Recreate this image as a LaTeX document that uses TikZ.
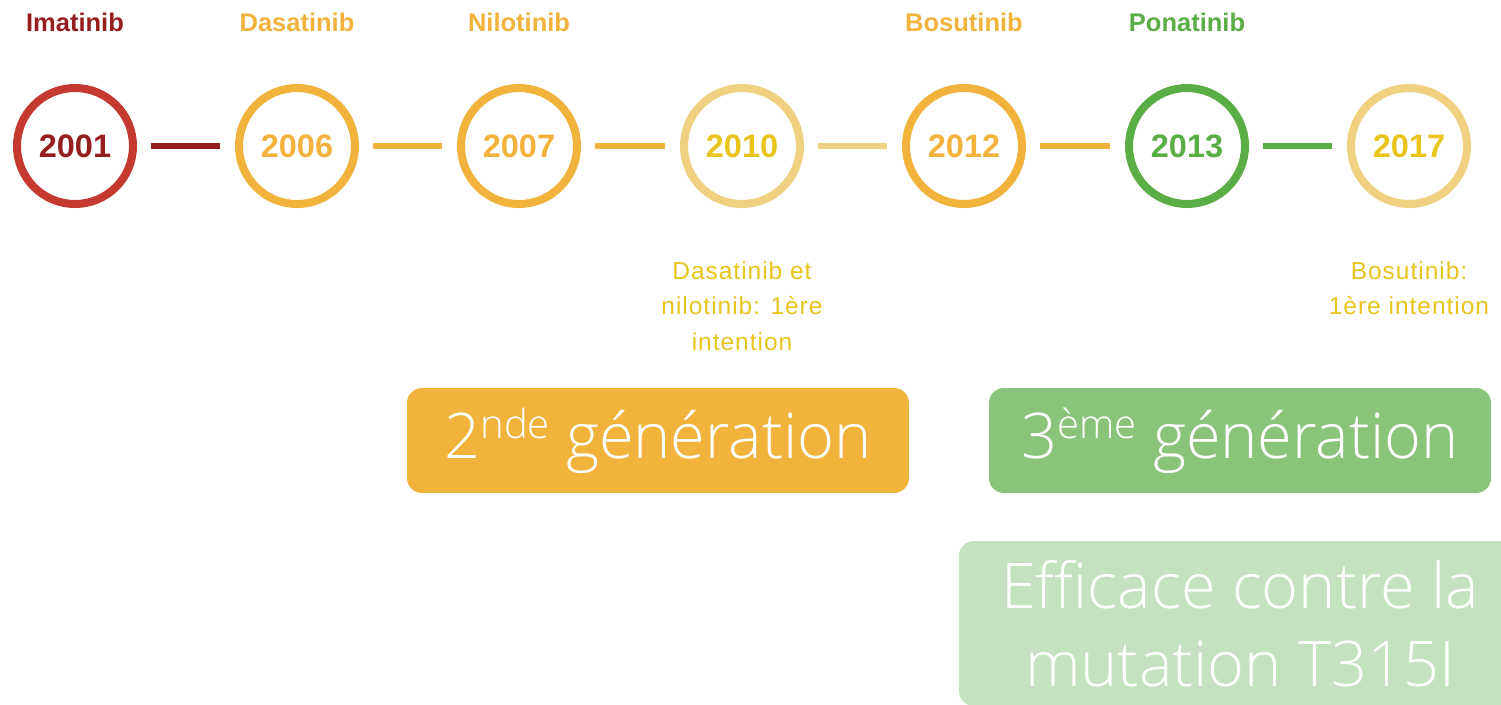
\documentclass[tikz,border=0pt]{standalone}
\usepackage{fontspec}
\setmainfont{Liberation Sans}
\newfontfamily\boxfont{Open Sans}[UprightFont={* Light}]
\definecolor{cRed}{HTML}{C53A30}
\definecolor{cDarkRed}{HTML}{961E1E}
\definecolor{cOrange}{HTML}{F2B33D}
\definecolor{cPale}{HTML}{F0D182}
\definecolor{cYellow}{HTML}{E8C41C}
\definecolor{cGreen}{HTML}{5BAD46}
\definecolor{cBoxGreen}{HTML}{8AC47A}
\definecolor{cBoxPale}{HTML}{C5E2C0}
\tikzset{
  yearring/.style={circle, draw=#1, line width=8pt, minimum size=116pt, inner sep=0pt,
    font=\fontsize{32.5}{36}\selectfont\bfseries},
  drug/.style={font=\fontsize{25.5}{28}\selectfont\bfseries, text=#1},
  link/.style={draw=#1, line width=6pt, shorten <=14pt, shorten >=15pt},
  note/.style={font=\fontsize{24.5}{35.5}\selectfont\addfontfeatures{LetterSpace=4}, text=cYellow, align=center},
  genbox/.style={fill=#1, rounded corners=15pt, inner sep=0pt, text=white,
    font=\boxfont\fontsize{63}{78}\selectfont}
}
\newcommand\supword[1]{\raisebox{20pt}{\fontsize{40}{44}\selectfont #1}}
\begin{document}
\begin{tikzpicture}[x=1pt, y=-1pt]
  \clip (0,0) rectangle (1501,704);
  \fill[white] (0,0) rectangle (1501,704);

  % year rings along the timeline
  \node[yearring=cRed, text=cDarkRed] (y2001) at (75,146) {2001};
  \node[yearring=cOrange, text=cOrange] (y2006) at (297,146) {2006};
  \node[yearring=cOrange, text=cOrange] (y2007) at (519,146) {2007};
  \node[yearring=cPale, text=cYellow] (y2010) at (742,146) {2010};
  \node[yearring=cOrange, text=cOrange] (y2012) at (964,146) {2012};
  \node[yearring=cGreen, text=cGreen] (y2013) at (1187,146) {2013};
  \node[yearring=cPale, text=cYellow] (y2017) at (1409,146) {2017};

  % links between consecutive years
  \draw[link=cDarkRed] (y2001) -- (y2006);
  \draw[link=cOrange] (y2006) -- (y2007);
  \draw[link=cOrange] (y2007) -- (y2010);
  \draw[link=cPale] (y2010) -- (y2012);
  \draw[link=cOrange] (y2012) -- (y2013);
  \draw[link=cGreen] (y2013) -- (y2017);

  % drug names above the rings
  \node[drug=cDarkRed] (dImatinib) at (75,22) {Imatinib};
  \node[drug=cOrange] (dDasatinib) at (297,22) {Dasatinib};
  \node[drug=cOrange] (dNilotinib) at (519,22) {Nilotinib};
  \node[drug=cOrange] (dBosutinib) at (964,22) {Bosutinib};
  \node[drug=cGreen] (dPonatinib) at (1187,22) {Ponatinib};

  % notes under the rings
  \node[note] (n2010) at (742,306) {Dasatinib et\\nilotinib: 1ère\\intention};
  \node[note] (n2017) at (1409,288) {Bosutinib:\\1ère intention};

  % generation boxes
  \node[genbox=cOrange, minimum width=502pt, minimum height=105pt] (gen2) at (658,440.5)
    {2\supword{nde} génération};
  \node[genbox=cBoxGreen, minimum width=502pt, minimum height=105pt] (gen3) at (1240,440.5)
    {3\supword{ème} génération};
  \node[genbox=cBoxPale, minimum width=562pt, minimum height=165pt, align=center] (t315) at (1240,623.5)
    {Efficace contre la\\mutation T315I};
\end{tikzpicture}
\end{document}
